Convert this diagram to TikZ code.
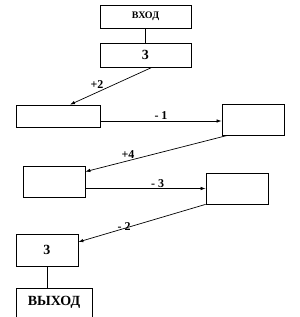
\documentclass[tikz,border=0pt]{standalone}
\usepackage{fontspec}
\setmainfont{Liberation Serif}
\usetikzlibrary{arrows.meta, calc, positioning}

\begin{document}
\begin{tikzpicture}[x=1pt, y=-1pt, line width=0.7pt,
    box/.style={draw, rectangle, inner sep=0pt, font=\bfseries\fontsize{14}{14}\selectfont},
    arr/.style={-{Latex[length=5pt, width=3.5pt]}},
    lbl/.style={font=\bfseries\fontsize{12}{12}\selectfont, inner sep=1pt}]
    % 画布
    \useasboundingbox (0,0) rectangle (300,317);
    \clip (0,0) rectangle (300,317);

    % 输入与第一个数
    \node[box, minimum width=91pt, minimum height=23pt, font=\bfseries\fontsize{10}{10}\selectfont] (entry) at (145.5,16.5) {ВХОД};
    \node[box, minimum width=91pt, minimum height=24pt] (first) at (145.5,55) {3};
    \draw (entry) -- (first);

    % 中间的空框
    \node[box, minimum width=84pt, minimum height=22pt] (left1) at (58,116) {};
    \node[box, minimum width=62pt, minimum height=31pt] (right1) at (253,119.5) {};
    \node[box, minimum width=62pt, minimum height=31pt] (left2) at (54,181.5) {};
    \node[box, minimum width=62pt, minimum height=31pt] (right2) at (237,188.5) {};

    % 结果与输出
    \node[box, minimum width=62pt, minimum height=32pt] (last) at (47,250) {3};
    \node[box, minimum width=76pt, text height=17pt, text depth=16pt, anchor=north] (exit) at (54,288) {ВЫХОД};
    \draw (last.south) -- (last.south |- exit.north);

    % 箭头
    \draw[arr] ([xshift=6.5pt]first.south) -- ([xshift=12pt]left1.north) node[lbl, pos=0.6, above left, xshift=2pt] {+2};
    \draw[arr] ([yshift=-5pt]left1.east) -- ([yshift=-5pt]left1.east -| right1.west) node[lbl, midway, above] {- 1};
    \draw[arr] ([xshift=6pt]right1.south west) -- ([yshift=-6pt]left2.north east) node[lbl, pos=0.7, above, yshift=1pt] {+4};
    \draw[arr] (left2.east |- right2.west) -- (right2.west) node[lbl, pos=0.6, above] {- 3};
    \draw[arr] (right2.south west) -- ([yshift=8pt]last.east) node[lbl, pos=0.64, above, yshift=-3pt] {- 2};
\end{tikzpicture}
\end{document}
